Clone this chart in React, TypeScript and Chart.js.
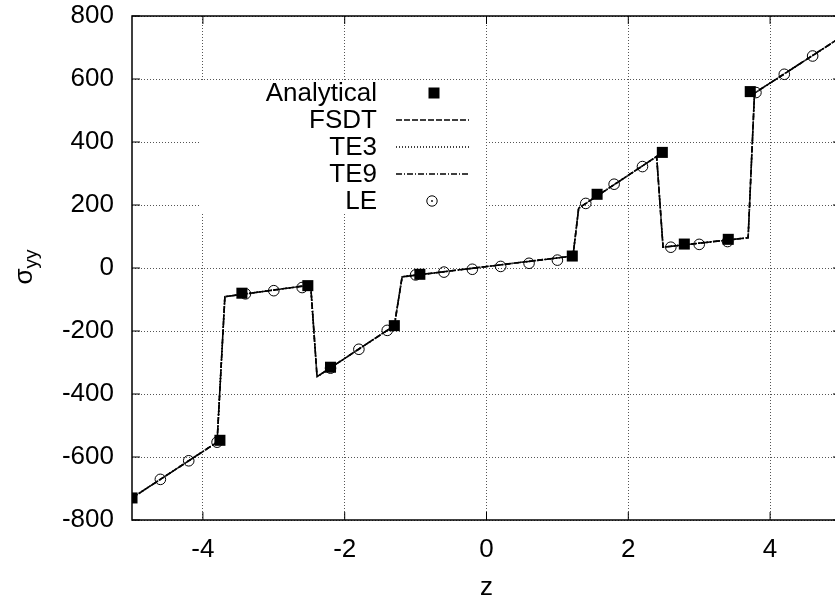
import React, { useEffect, useRef } from 'react';
import { Chart, registerables } from 'chart.js';

Chart.register(...registerables);

// ---- data ----
const lineZ = [-5, -3.8, -3.69, -2.48, -2.39, -1.3, -1.19, 1.22, 1.3, 2.4, 2.49, 3.69, 3.78, 5];
const fsdtV = [-730, -553, -91, -54, -345, -183, -28, 38, 190, 354, 66, 96, 555, 733];
const te3V = [-730, -553, -91, -54, -345, -183, -28, 38, 190, 354, 66, 96, 555, 733];
const te9V = [-730, -553, -91, -54, -345, -183, -28, 38, 190, 354, 66, 96, 555, 733];

const anaZ = [-5, -3.76, -3.45, -2.52, -2.2, -1.3, -0.94, 1.21, 1.56, 2.48, 2.79, 3.41, 3.72, 5];
const anaV = [-730, -547, -80, -56, -315, -183, -20, 38, 234, 367, 76, 91, 560, 734];

const leZ = [-4.6, -4.2, -3.8, -3.4, -3.0, -2.6, -2.2, -1.8, -1.4, -1.0, -0.6, -0.2, 0.2, 0.6, 1.0, 1.4, 1.8, 2.2, 2.6, 3.0, 3.4, 3.8, 4.2, 4.6];
const leV = [-671, -612, -553, -82, -72, -62, -318, -258, -198, -22, -13, -4, 5, 15, 25, 205, 266, 322, 66, 75, 84, 557, 615, 673];

const xTicks = [-4, -2, 0, 2, 4];
const yTicks = [-800, -600, -400, -200, 0, 200, 400, 600, 800];
const legendLabels = ['Analytical', 'FSDT', 'TE3', 'TE9', 'LE'];
const xTitle = 'z';
const yTitleMain = 'σ';
const yTitleSub = 'yy';

const FONT = '"Liberation Sans", Arial, Helvetica, sans-serif';
const FS = 26;

const pts = (zs: number[], vs: number[]) => zs.map((z, i) => ({ x: z, y: vs[i] }));

const decorPlugin = {
  id: 'decor',
  beforeDatasetsDraw(chart: any) {
    const { ctx, chartArea: a } = chart;
    ctx.save();
    ctx.fillStyle = '#fff';
    ctx.fillRect(a.left + 69, a.top + 64, 284, 134);
    ctx.restore();
  },
  afterDraw(chart: any) {
    const { ctx, chartArea: a, scales } = chart;
    ctx.save();
    ctx.setLineDash([]);
    ctx.strokeStyle = '#000';
    // frame
    ctx.lineWidth = 1.5;
    ctx.strokeRect(a.left, a.top, a.right - a.left, a.bottom - a.top);
    // inward ticks (mirrored)
    ctx.lineWidth = 1;
    const seg = (x1: number, y1: number, x2: number, y2: number) => {
      ctx.beginPath();
      ctx.moveTo(x1, y1);
      ctx.lineTo(x2, y2);
      ctx.stroke();
    };
    for (const v of yTicks) {
      const y = scales.y.getPixelForValue(v);
      seg(a.left, y, a.left + 8, y);
      seg(a.right, y, a.right - 8, y);
    }
    for (const v of xTicks) {
      const x = scales.x.getPixelForValue(v);
      seg(x, a.bottom, x, a.bottom - 8);
      seg(x, a.top, x, a.top + 8);
    }
    // axis titles
    ctx.fillStyle = '#000';
    ctx.font = `${FS}px ${FONT}`;
    ctx.textAlign = 'center';
    ctx.textBaseline = 'alphabetic';
    ctx.fillText(xTitle, (a.left + a.right) / 2, 595);

    ctx.save();
    ctx.translate(32, (a.top + a.bottom) / 2 - 1);
    ctx.rotate(-Math.PI / 2);
    ctx.textAlign = 'left';
    ctx.font = `${FS}px ${FONT}`;
    const w1 = ctx.measureText(yTitleMain).width;
    ctx.font = `${19}px ${FONT}`;
    const w2 = ctx.measureText(yTitleSub).width;
    const start = -(w1 + w2) / 2;
    ctx.font = `${FS}px ${FONT}`;
    ctx.fillText(yTitleMain, start, 0);
    ctx.font = `${19}px ${FONT}`;
    ctx.fillText(yTitleSub, start + w1, 5);
    ctx.restore();

    // legend
    const textRight = a.left + 245;
    const sx1 = a.left + 264;
    const sx2 = a.left + 337;
    const symX = a.left + 302;
    const rowY0 = a.top + 77;
    const rowH = 27;
    ctx.font = `${FS}px ${FONT}`;
    ctx.textAlign = 'right';
    ctx.textBaseline = 'middle';
    legendLabels.forEach((lab, i) => {
      const y = rowY0 + i * rowH;
      ctx.fillStyle = '#000';
      ctx.fillText(lab, textRight, y + 1);
      ctx.strokeStyle = '#000';
      if (i === 0) {
        ctx.fillRect(symX - 5.5, y - 5.5, 11, 11);
      } else if (i === 4) {
        ctx.lineWidth = 1;
        ctx.setLineDash([]);
        ctx.beginPath();
        ctx.arc(symX - 2, y, 5.2, 0, Math.PI * 2);
        ctx.stroke();
        ctx.beginPath();
        ctx.arc(symX - 2, y, 0.9, 0, Math.PI * 2);
        ctx.fill();
      } else {
        const dash = i === 1 ? [6, 2] : i === 2 ? [1, 2] : [6, 2, 1, 2];
        ctx.lineWidth = 1.4;
        ctx.setLineDash(dash);
        ctx.beginPath();
        ctx.moveTo(sx1, y);
        ctx.lineTo(sx2, y);
        ctx.stroke();
        ctx.setLineDash([]);
      }
    });
    ctx.restore();
  },
};

export default function App() {
  const ref = useRef<HTMLCanvasElement | null>(null);

  useEffect(() => {
    if (!ref.current) return;
    const tickFont = { family: FONT, size: FS };
    const chart = new Chart(ref.current, {
      type: 'scatter',
      data: {
        datasets: [
          {
            label: 'LE',
            data: pts(leZ, leV),
            showLine: false,
            pointStyle: 'circle',
            pointRadius: 5.3,
            backgroundColor: 'rgba(0,0,0,0)',
            borderColor: '#000',
            borderWidth: 1,
          },
          {
            label: 'TE9',
            data: pts(lineZ, te9V),
            showLine: true,
            pointRadius: 0,
            borderColor: '#000',
            borderWidth: 1.6,
            borderDash: [6, 2, 1, 2],
            tension: 0,
          },
          {
            label: 'TE3',
            data: pts(lineZ, te3V),
            showLine: true,
            pointRadius: 0,
            borderColor: '#000',
            borderWidth: 1.6,
            borderDash: [1, 2],
            tension: 0,
          },
          {
            label: 'FSDT',
            data: pts(lineZ, fsdtV),
            showLine: true,
            pointRadius: 0,
            borderColor: '#000',
            borderWidth: 1.6,
            borderDash: [6, 2],
            tension: 0,
          },
          {
            label: 'Analytical',
            data: pts(anaZ, anaV),
            showLine: false,
            pointStyle: 'rect',
            pointRadius: 7.8,
            backgroundColor: '#000',
            borderColor: '#000',
            borderWidth: 0,
          },
        ],
      },
      options: {
        responsive: false,
        animation: false,
        devicePixelRatio: 1,
        layout: { padding: { left: 0, top: 16, right: 9, bottom: 0 } },
        plugins: { legend: { display: false }, tooltip: { enabled: false } },
        scales: {
          x: {
            type: 'linear',
            min: -5,
            max: 5,
            afterBuildTicks: (s: any) => {
              s.ticks = xTicks.map((v) => ({ value: v }));
            },
            afterFit: (s: any) => {
              s.height = 84;
              s.paddingLeft = 0;
              s.paddingRight = 0;
              s.paddingTop = 0;
              s.paddingBottom = 0;
            },
            ticks: { font: tickFont, color: '#000', padding: 14, maxRotation: 0, autoSkip: false },
            grid: { color: '#555', lineWidth: 1, drawTicks: false },
            border: { display: false, dash: [1, 2] },
          },
          y: {
            type: 'linear',
            min: -800,
            max: 800,
            afterBuildTicks: (s: any) => {
              s.ticks = yTicks.map((v) => ({ value: v }));
            },
            afterFit: (s: any) => {
              s.width = 132;
              s.paddingLeft = 0;
              s.paddingRight = 0;
              s.paddingTop = 0;
              s.paddingBottom = 0;
            },
            ticks: { font: tickFont, color: '#000', padding: 18, autoSkip: false },
            grid: { color: '#555', lineWidth: 1, drawTicks: false },
            border: { display: false, dash: [1, 2] },
          },
        },
      },
      plugins: [decorPlugin],
    } as any);
    return () => chart.destroy();
  }, []);

  return (
    <div
      style={{
        position: 'fixed',
        left: 0,
        top: 0,
        width: 835,
        height: 604,
        overflow: 'hidden',
        background: '#fff',
      }}
    >
      <canvas ref={ref} width={850} height={604} style={{ display: 'block' }} />
    </div>
  );
}
